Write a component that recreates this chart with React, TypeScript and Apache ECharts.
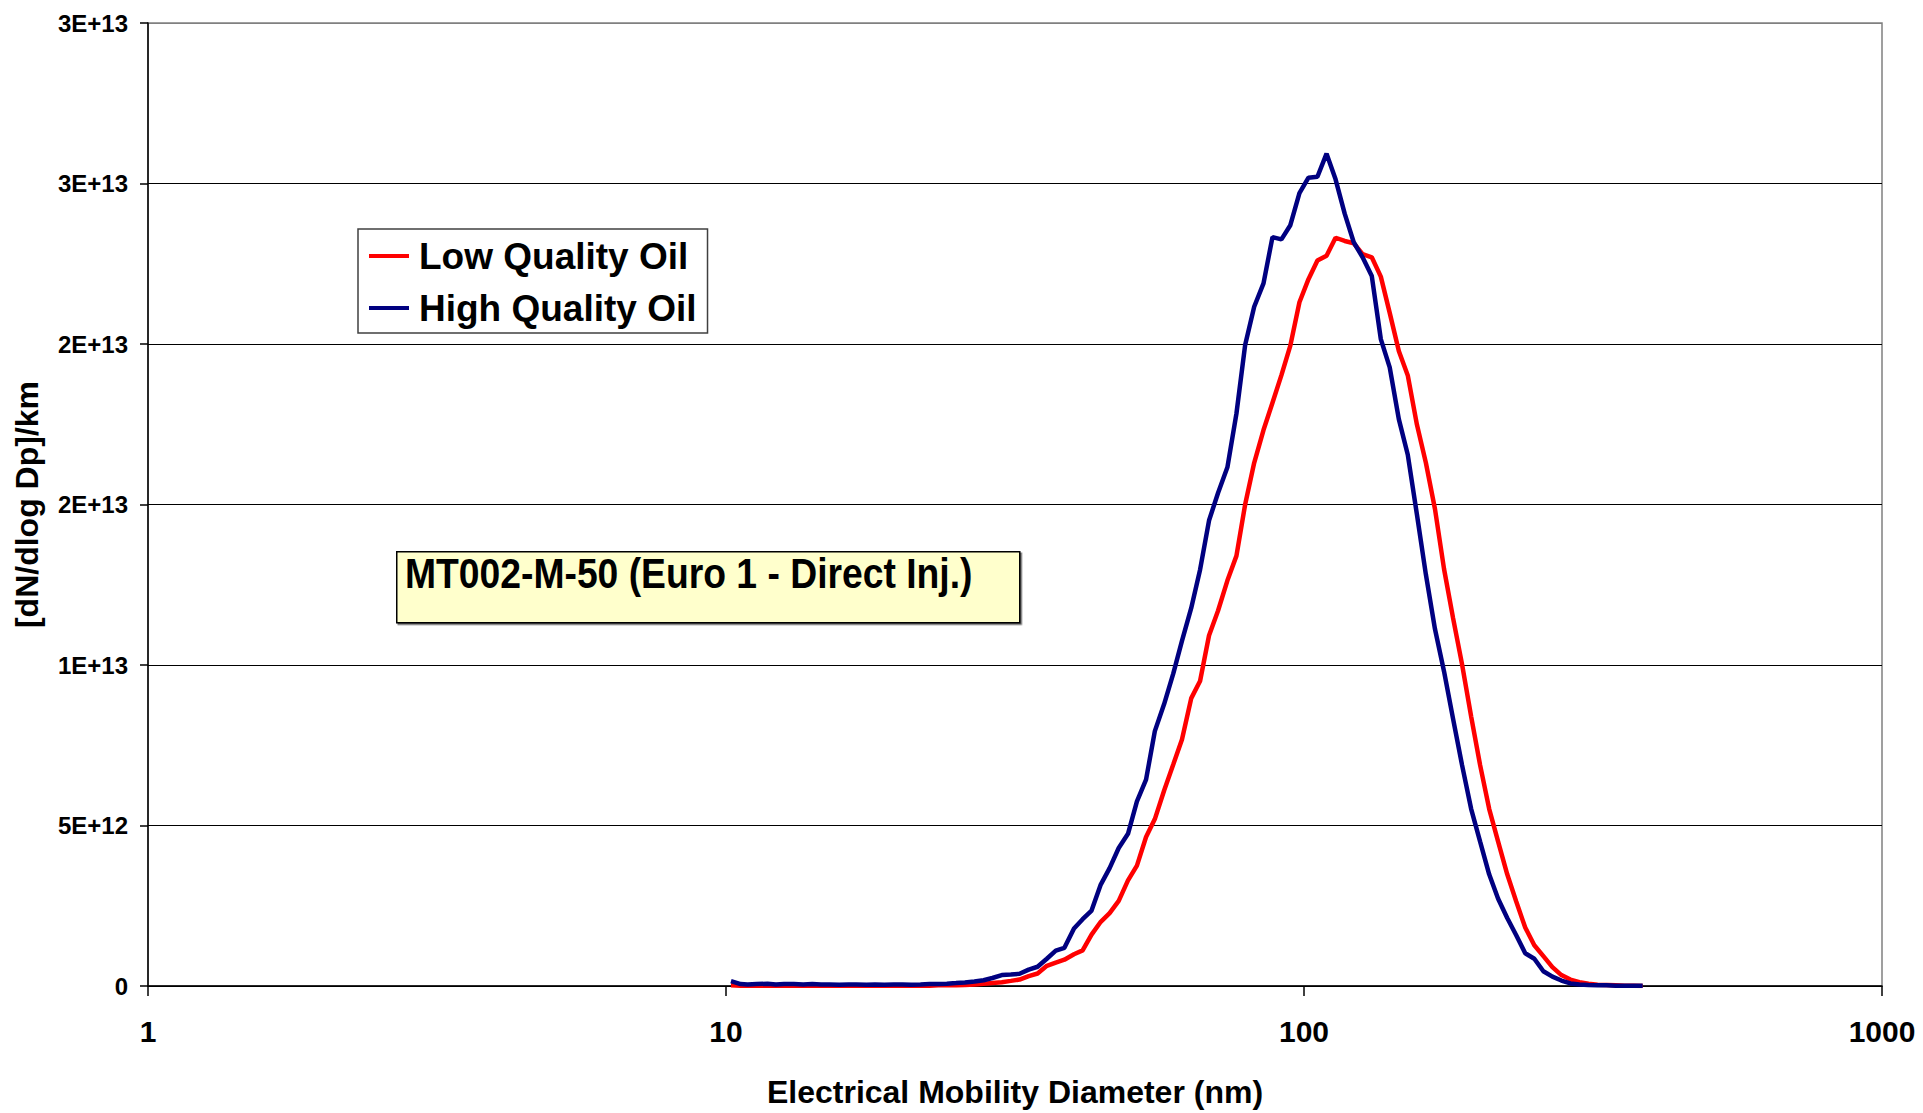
import React, { useEffect, useRef } from "react";
import * as echarts from "echarts";

// SMPS channel mid-point diameters (nm)
const diameters = [
  10.2, 10.6, 10.9, 11.3, 11.8, 12.2, 12.6, 13.1, 13.6, 14.1,
  14.6, 15.1, 15.7, 16.3, 16.8, 17.5, 18.1, 18.8, 19.5, 20.2,
  20.9, 21.7, 22.5, 23.3, 24.1, 25.0, 25.9, 26.9, 27.9, 28.9,
  30.0, 31.1, 32.2, 33.4, 34.6, 35.9, 37.2, 38.5, 40.0, 41.4,
  42.9, 44.5, 46.1, 47.8, 49.6, 51.4, 53.3, 55.2, 57.3, 59.4,
  61.5, 63.8, 66.1, 68.5, 71.0, 73.7, 76.4, 79.1, 82.0, 85.1,
  88.2, 91.4, 94.7, 98.2, 101.8, 105.5, 109.4, 113.4, 117.6, 121.9,
  126.3, 131.0, 135.8, 140.7, 145.9, 151.2, 156.8, 162.5, 168.5, 174.7,
  181.1, 187.7, 194.6, 201.7, 209.1, 216.7, 224.7, 232.9, 241.4, 250.3,
  259.5, 269.0, 278.8, 289.0, 299.6, 310.6, 322.0, 333.8, 346.0, 358.7,
  371.8, 385.4,
];

// dN/dlogDp per km, in units of 1E+12
const lowQualityOil = [
  0.02, 0.01, 0.01, 0.01, 0.01, 0.01, 0.01, 0.01, 0.01, 0.01,
  0.01, 0.01, 0.01, 0.01, 0.01, 0.01, 0.01, 0.01, 0.01, 0.01,
  0.01, 0.01, 0.01, 0.02, 0.02, 0.02, 0.03, 0.05, 0.07, 0.09,
  0.12, 0.16, 0.2, 0.31, 0.39, 0.63, 0.73, 0.82, 0.99, 1.11,
  1.6, 2.0, 2.27, 2.65, 3.29, 3.75, 4.64, 5.2, 6.1, 6.9,
  7.68, 8.96, 9.5, 10.92, 11.69, 12.63, 13.4, 15.0, 16.3, 17.32,
  18.17, 19.03, 19.95, 21.3, 22.02, 22.6, 22.75, 23.31, 23.21, 23.14,
  22.8, 22.7, 22.1, 20.97, 19.78, 19.02, 17.49, 16.3, 14.86, 12.99,
  11.46, 10.02, 8.4, 6.88, 5.52, 4.5, 3.48, 2.63, 1.82, 1.27,
  0.93, 0.59, 0.34, 0.2, 0.12, 0.07, 0.04, 0.03, 0.02, 0.01,
  0.01, 0.0,
];

const highQualityOil = [
  0.15, 0.06, 0.05, 0.06, 0.07, 0.05, 0.06, 0.06, 0.05, 0.06,
  0.05, 0.05, 0.04, 0.05, 0.05, 0.04, 0.05, 0.04, 0.05, 0.05,
  0.04, 0.05, 0.06, 0.06, 0.07, 0.09, 0.11, 0.14, 0.18, 0.25,
  0.34, 0.36, 0.38, 0.51, 0.6, 0.85, 1.1, 1.19, 1.79, 2.08,
  2.35, 3.16, 3.67, 4.3, 4.74, 5.75, 6.43, 7.94, 8.79, 9.73,
  10.75, 11.77, 12.97, 14.5, 15.36, 16.16, 17.83, 19.97, 21.16, 21.89,
  23.33, 23.26, 23.7, 24.7, 25.18, 25.21, 25.93, 25.13, 24.06, 23.17,
  22.7, 22.12, 20.15, 19.27, 17.66, 16.55, 14.69, 12.82, 11.12, 9.8,
  8.32, 6.88, 5.52, 4.5, 3.48, 2.72, 2.12, 1.58, 1.02, 0.85,
  0.46, 0.29, 0.17, 0.08, 0.05, 0.03, 0.02, 0.02, 0.01, 0.01,
  0.01, 0.01,
];

const yTickLabels = ["0", "5E+12", "1E+13", "2E+13", "2E+13", "3E+13", "3E+13"];
const seriesNames = ["Low Quality Oil", "High Quality Oil"];
const annotation = "MT002-M-50 (Euro 1 - Direct Inj.)";

const FONT = "'Liberation Sans', Arial, sans-serif";

export default function App() {
  const ref = useRef<HTMLDivElement>(null);

  useEffect(() => {
    if (!ref.current) return;
    const chart = echarts.init(ref.current, undefined, { renderer: "svg" });
    const toPairs = (vals: number[]) => diameters.map((d, i) => [d, vals[i] * 1e12]);

    chart.setOption({
      animation: false,
      backgroundColor: "#ffffff",
      textStyle: { fontFamily: FONT },
      grid: {
        left: 148,
        right: 41,
        top: 23,
        bottom: 120,
        show: true,
        borderColor: "#808080",
        borderWidth: 1.5,
        backgroundColor: "transparent",
      },
      legend: {
        orient: "vertical",
        left: 358,
        top: 229,
        data: seriesNames,
        icon: "rect",
        itemWidth: 40,
        itemHeight: 4,
        itemGap: 8,
        padding: [5, 11, 3, 11],
        borderColor: "#404040",
        borderWidth: 1.5,
        backgroundColor: "#ffffff",
        textStyle: {
          fontFamily: FONT,
          fontSize: 37,
          fontWeight: "bold",
          color: "#000",
          lineHeight: 44,
          padding: [0, 0, 0, 5],
        },
      },
      xAxis: {
        type: "log",
        logBase: 10,
        min: 1,
        max: 1000,
        name: "Electrical Mobility Diameter (nm)",
        nameLocation: "middle",
        nameGap: 90,
        nameTextStyle: { fontFamily: FONT, fontSize: 32, fontWeight: "bold", color: "#000" },
        axisLine: { lineStyle: { color: "#000", width: 1.5 } },
        axisTick: { show: true, length: 10, lineStyle: { color: "#000", width: 1.5 } },
        minorTick: { show: false },
        splitLine: { show: false },
        axisLabel: {
          fontFamily: FONT,
          fontSize: 30,
          fontWeight: "bold",
          color: "#000",
          margin: 30,
          formatter: (v: number) => String(Math.round(v)),
        },
      },
      yAxis: {
        type: "value",
        min: 0,
        max: 3e13,
        interval: 5e12,
        name: "[dN/dlog Dp]/km",
        nameLocation: "middle",
        nameGap: 105,
        nameRotate: 90,
        nameTextStyle: { fontFamily: FONT, fontSize: 32, fontWeight: "bold", color: "#000" },
        axisLine: { show: true, lineStyle: { color: "#000", width: 1.5 } },
        axisTick: { show: true, length: 8, lineStyle: { color: "#000", width: 1.5 } },
        splitLine: {
          show: true,
          lineStyle: {
            color: ["#000", "#000", "#000", "#000", "#000", "#000", "#808080"],
            width: 1,
          },
        },
        axisLabel: {
          fontFamily: FONT,
          fontSize: 24,
          fontWeight: "bold",
          color: "#000",
          margin: 20,
          formatter: (v: number) => yTickLabels[Math.round(v / 5e12)] ?? "",
        },
      },
      series: [
        {
          name: seriesNames[0],
          type: "line",
          data: toPairs(lowQualityOil),
          showSymbol: false,
          symbol: "none",
          color: "#FF0000",
          lineStyle: { color: "#FF0000", width: 4.5 },
          z: 3,
        },
        {
          name: seriesNames[1],
          type: "line",
          data: toPairs(highQualityOil),
          showSymbol: false,
          symbol: "none",
          color: "#000080",
          lineStyle: { color: "#000080", width: 4.5 },
          z: 4,
        },
      ],
      graphic: [
        {
          type: "rect",
          left: 396,
          top: 551,
          shape: { x: 0, y: 0, width: 623, height: 71 },
          style: {
            fill: "#FFFFCC",
            stroke: "#000",
            lineWidth: 1.5,
            shadowColor: "rgba(0,0,0,0.6)",
            shadowOffsetX: 1.5,
            shadowOffsetY: 1.5,
            shadowBlur: 0,
          },
          z: 10,
        },
        {
          type: "text",
          x: 405,
          y: 574,
          scaleX: 0.867,
          style: {
            text: annotation,
            x: 0,
            y: 0,
            fontFamily: FONT,
            fontSize: 43,
            fontWeight: "bold",
            fill: "#000",
            verticalAlign: "middle",
            align: "left",
          },
          z: 11,
        },
      ],
    });

    return () => chart.dispose();
  }, []);

  return (
    <div
      ref={ref}
      style={{ position: "fixed", left: 0, top: 0, width: 1923, height: 1113 }}
    />
  );
}
